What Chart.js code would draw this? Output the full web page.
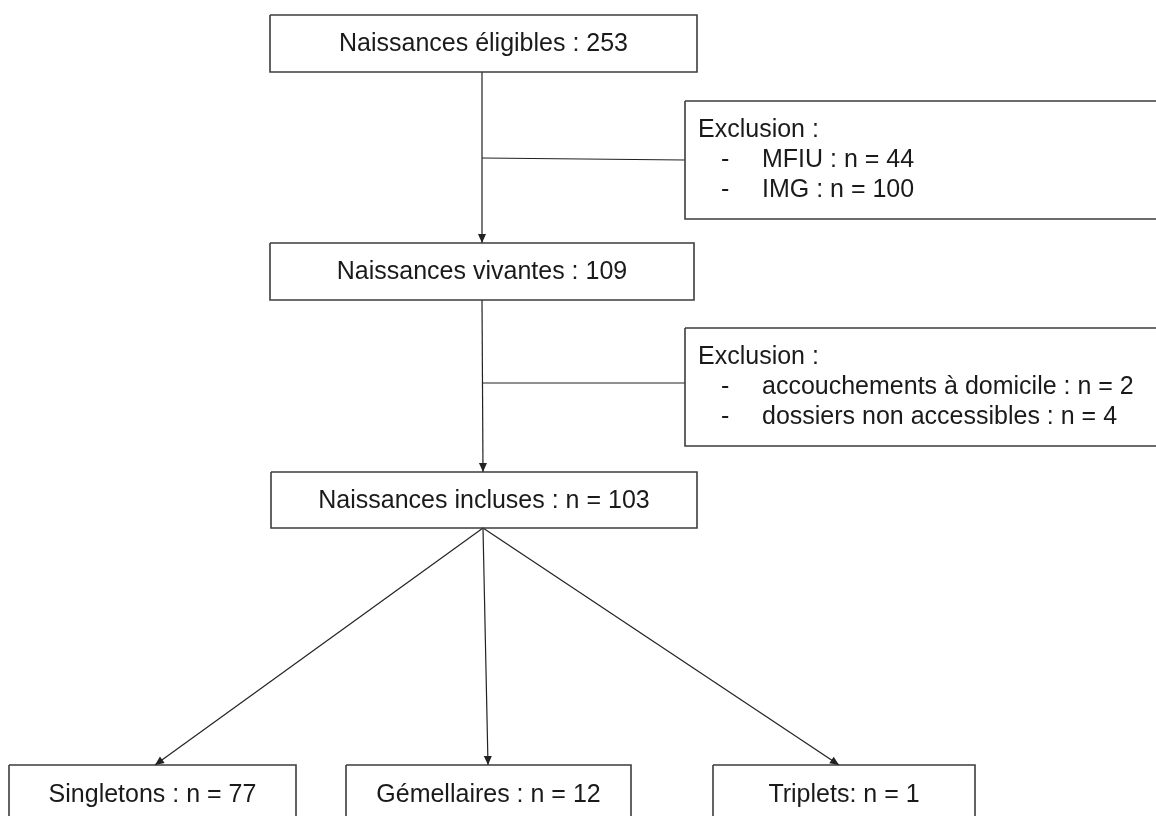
<!DOCTYPE html>
<html>
<head>
<meta charset="utf-8">
<script src="https://cdn.jsdelivr.net/npm/chart.js@4"></script>
<style>
  html, body { margin: 0; padding: 0; background: #fff; }
  canvas { display: block; }
</style>
</head>
<body>
<canvas id="flow" width="1156" height="816"></canvas>
<script>
// flowchart values
const stageLabels = ['Naissances éligibles : ', 'Naissances vivantes : ', 'Naissances incluses : n = '];
const stageCounts = [253, 109, 103];
const exclusionTitle = 'Exclusion :';
const exclusion1Reasons = ['MFIU', 'IMG'];
const exclusion1Counts = [44, 100];
const exclusion2Reasons = ['accouchements à domicile', 'dossiers non accessibles'];
const exclusion2Counts = [2, 4];
const groupLabels = ['Singletons : n = ', 'Gémellaires : n = ', 'Triplets: n = '];
const groupCounts = [77, 12, 1];

// layout (chart units == pixels): [left, top, right, bottom]
const stageBoxes = [[270, 15, 697, 72], [270, 243, 694, 300], [271, 472, 697, 528]];
const exclusionBoxes = [[685, 101, 1170, 219], [685, 328, 1170, 446]];
const groupBoxes = [[9, 765, 296, 830], [346, 765, 631, 830], [713, 765, 975, 830]];
const trunkX = 482;
const branchY = [159, 383];
const groupTipX = [155, 488, 839];

const FONT = '25px "Liberation Sans", Arial, sans-serif';
const BOX_COLOR = '#3d3d3d';
const LINE_COLOR = '#222';

function rect(b) {
  return [{x: b[0], y: b[1]}, {x: b[2], y: b[1]}, {x: b[2], y: b[3]}, {x: b[0], y: b[3]}, {x: b[0], y: b[1]}];
}
function boxSet(b) {
  return {data: rect(b), borderColor: BOX_COLOR, borderWidth: 1.6, showLine: true, pointRadius: 0, fill: false, tension: 0};
}
function lineSet(pts, arrow) {
  return {data: pts, borderColor: LINE_COLOR, borderWidth: 1.2, showLine: true, pointRadius: 0, fill: false, tension: 0, arrow: arrow};
}

const datasets = [];
stageBoxes.concat(exclusionBoxes, groupBoxes).forEach(b => datasets.push(boxSet(b)));
datasets.push(lineSet([{x: trunkX, y: stageBoxes[0][3]}, {x: trunkX, y: stageBoxes[1][1]}], true));
datasets.push(lineSet([{x: trunkX, y: stageBoxes[1][3]}, {x: trunkX + 1, y: stageBoxes[2][1]}], true));
datasets.push(lineSet([{x: trunkX, y: branchY[0] - 1}, {x: exclusionBoxes[0][0], y: branchY[0] + 1}], false));
datasets.push(lineSet([{x: trunkX, y: branchY[1]}, {x: exclusionBoxes[1][0], y: branchY[1]}], false));
groupTipX.forEach((gx, i) => {
  datasets.push(lineSet([{x: trunkX + 1, y: stageBoxes[2][3]}, {x: gx, y: groupBoxes[i][1]}], true));
});

const arrowHeads = {
  id: 'arrowHeads',
  afterDatasetsDraw(chart) {
    const ctx = chart.ctx;
    chart.data.datasets.forEach((ds, i) => {
      if (!ds.arrow) return;
      const pts = chart.getDatasetMeta(i).data;
      const a = pts[pts.length - 2], b = pts[pts.length - 1];
      const ang = Math.atan2(b.y - a.y, b.x - a.x);
      const len = 9, half = 4;
      ctx.save();
      ctx.translate(b.x, b.y);
      ctx.rotate(ang);
      ctx.beginPath();
      ctx.moveTo(0, 0);
      ctx.lineTo(-len, -half);
      ctx.lineTo(-len, half);
      ctx.closePath();
      ctx.fillStyle = LINE_COLOR;
      ctx.fill();
      ctx.restore();
    });
  }
};

const boxTexts = {
  id: 'boxTexts',
  afterDraw(chart) {
    const ctx = chart.ctx;
    const xs = chart.scales.x, ys = chart.scales.y;
    ctx.save();
    ctx.font = FONT;
    ctx.fillStyle = '#1a1a1a';
    // centred labels
    ctx.textAlign = 'center';
    ctx.textBaseline = 'middle';
    stageBoxes.forEach((b, i) => {
      ctx.fillText(stageLabels[i] + stageCounts[i],
        xs.getPixelForValue((b[0] + b[2]) / 2), ys.getPixelForValue((b[1] + b[3]) / 2 + 1));
    });
    groupBoxes.forEach((b, i) => {
      ctx.fillText(groupLabels[i] + groupCounts[i],
        xs.getPixelForValue((b[0] + b[2]) / 2), ys.getPixelForValue(b[1] + 30));
    });
    // exclusion lists
    ctx.textAlign = 'left';
    ctx.textBaseline = 'alphabetic';
    [[exclusion1Reasons, exclusion1Counts], [exclusion2Reasons, exclusion2Counts]].forEach((ex, k) => {
      const b = exclusionBoxes[k];
      const top = b[1];
      ctx.fillText(exclusionTitle, xs.getPixelForValue(b[0] + 13), ys.getPixelForValue(top + 36));
      ex[0].forEach((r, j) => {
        const y = ys.getPixelForValue(top + 66 + j * 29.5);
        ctx.fillText('-', xs.getPixelForValue(b[0] + 36), y);
        ctx.fillText(r + ' : n = ' + ex[1][j], xs.getPixelForValue(b[0] + 77), y);
      });
    });
    ctx.restore();
  }
};

new Chart(document.getElementById('flow').getContext('2d'), {
  type: 'scatter',
  data: {datasets},
  options: {
    responsive: false,
    animation: false,
    layout: {padding: 0},
    plugins: {legend: {display: false}, tooltip: {enabled: false}},
    scales: {
      x: {type: 'linear', min: 0, max: 1156, display: false},
      y: {type: 'linear', min: 0, max: 816, reverse: true, display: false}
    }
  },
  plugins: [arrowHeads, boxTexts]
});
</script>
</body>
</html>
